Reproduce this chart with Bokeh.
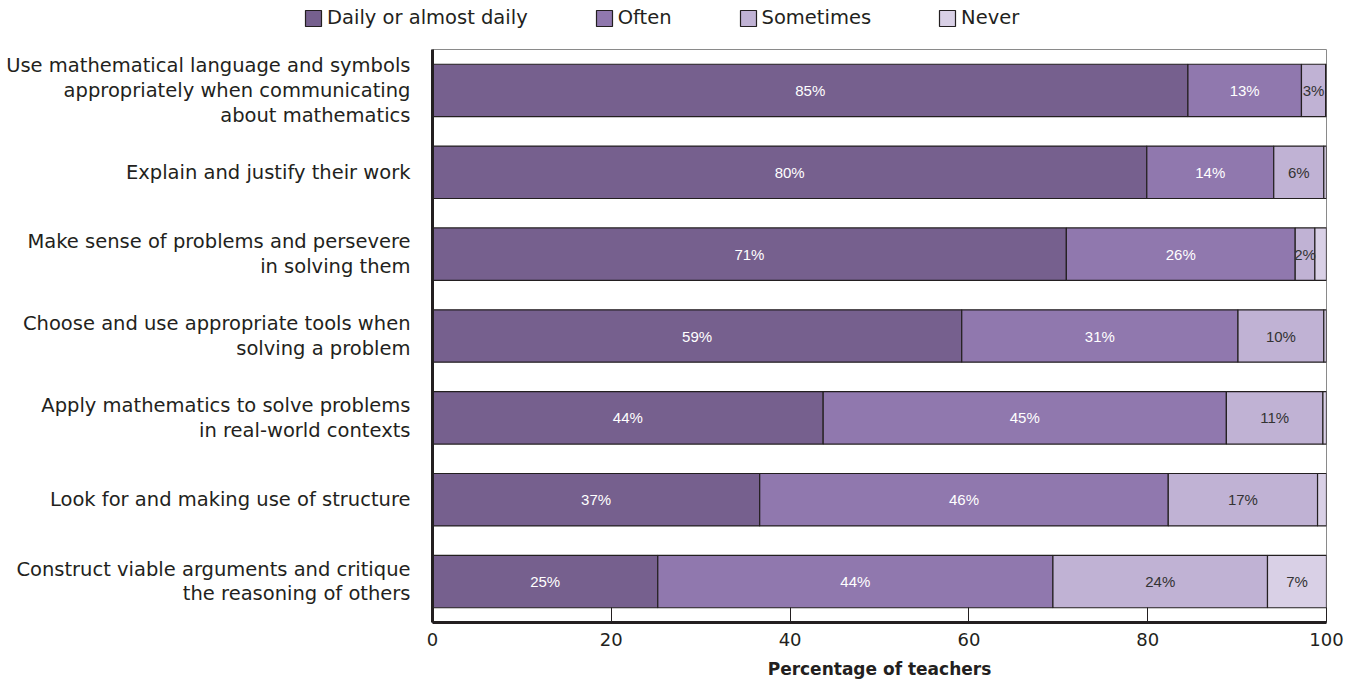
from bokeh.plotting import figure
from bokeh.layouts import column
from bokeh.models import ColumnDataSource, LabelSet, Legend, LegendItem
from bokeh.core.properties import value
from bokeh.embed import file_html
from bokeh.resources import INLINE

# Practices, top to bottom
practices = [
    "Use mathematical language and symbols\nappropriately when communicating\nabout mathematics",
    "Explain and justify their work",
    "Make sense of problems and persevere\nin solving them",
    "Choose and use appropriate tools when\nsolving a problem",
    "Apply mathematics to solve problems\nin real-world contexts",
    "Look for and making use of structure",
    "Construct viable arguments and critique\nthe reasoning of others",
]

frequency = ["Daily or almost daily", "Often", "Sometimes", "Never"]

# Percentage of teachers per frequency
daily = [84.5, 79.9, 70.9, 59.2, 43.7, 36.6, 25.2]
often = [12.7, 14.2, 25.6, 30.9, 45.1, 45.7, 44.2]
sometimes = [2.7, 5.6, 2.2, 9.6, 10.8, 16.7, 24.0]
never = [0.1, 0.3, 1.3, 0.3, 0.4, 1.0, 6.6]

x_ticks = [0, 20, 40, 60, 80, 100]

colors = ["#76608e", "#9078ae", "#c0b2d4", "#d9d0e6"]
label_colors = ["#ffffff", "#ffffff", "#333333", "#333333"]
edge = "#231f20"
ink = "#231f20"
FONT = "DejaVu Sans"

series = [daily, often, sometimes, never]
keys = ["daily", "often", "sometimes", "never"]

data = {"practice": practices}
for k, s in zip(keys, series):
    data[k] = s
source = ColumnDataSource(data)

KEY_H = 40

p = figure(
    width=1349, height=693 - KEY_H,
    y_range=list(reversed(practices)),
    x_range=(0, 100),
    output_backend="svg", toolbar_location=None,
    min_border_left=432, min_border_right=23,
    min_border_top=9, min_border_bottom=71,
)
p.frame_align = False
p.y_range.range_padding = 0

renderers = p.hbar_stack(
    keys, y="practice", height=0.64, source=source,
    color=colors, line_color=edge, line_width=1.2,
)

# Segment value labels, centred in each segment
for i, (k, s) in enumerate(zip(keys, series)):
    left = [sum(series[j][r] for j in range(i)) for r in range(len(practices))]
    mids, ys, texts = [], [], []
    for r, v in enumerate(s):
        if v >= 2:
            mids.append(left[r] + v / 2)
            ys.append(practices[r])
            texts.append(f"{int(v + 0.5)}%")
    ls = LabelSet(
        x="x", y="y", text="t",
        source=ColumnDataSource(dict(x=mids, y=ys, t=texts)),
        text_align="center", text_baseline="middle",
        text_font=value("Liberation Sans"), text_font_size=value("15px"),
        text_color=label_colors[i],
    )
    p.add_layout(ls)

# Axes
p.xaxis.ticker = x_ticks
p.xaxis.axis_label = "Percentage of teachers"
p.xaxis.axis_label_text_font = FONT
p.xaxis.axis_label_text_font_style = "bold"
p.xaxis.axis_label_text_font_size = "17px"
p.xaxis.axis_label_text_color = ink
p.xaxis.axis_label_standoff = 10
p.xaxis.major_label_text_font = FONT
p.xaxis.major_label_text_font_size = "18px"
p.xaxis.major_label_text_color = ink
p.xaxis.major_label_standoff = 10
p.xaxis.axis_line_width = 3
p.xaxis.axis_line_color = ink
p.xaxis.major_tick_in = 15
p.xaxis.major_tick_out = 0
p.xaxis.major_tick_line_color = ink
p.xaxis.minor_tick_line_color = None

p.yaxis.major_label_text_font = FONT
p.yaxis.major_label_text_font_size = "19.5px"
p.yaxis.major_label_text_color = ink
p.yaxis.major_label_text_line_height = 1.07
p.yaxis.major_label_standoff = 16
p.yaxis.axis_line_width = 3
p.yaxis.axis_line_color = ink
p.yaxis.major_tick_line_color = None
p.yaxis.minor_tick_line_color = None

p.xgrid.grid_line_color = None
p.ygrid.grid_line_color = None
p.outline_line_color = "#8a8a8a"
p.outline_line_width = 1

# Key strip across the top
key = figure(
    width=1349, height=KEY_H, x_range=(0, 1), y_range=(0, 1),
    output_backend="svg", toolbar_location=None,
    x_axis_location=None, y_axis_location=None,
    min_border=0,
)
key.frame_align = False
key.grid.visible = False
key.outline_line_color = None
nan = float("nan")
key_src = ColumnDataSource(dict(y=[nan], left=[nan], right=[nan]))
swatches = [
    key.hbar(y="y", left="left", right="right", height=0.5, source=key_src,
             color=c, line_color=edge, line_width=1.2)
    for c in colors
]
legend = Legend(
    items=[LegendItem(label=f, renderers=[r]) for f, r in zip(frequency, swatches)],
    orientation="horizontal",
    location=(303, 11),
    glyph_width=20, glyph_height=20, label_standoff=4, spacing=66,
    padding=0, margin=0, border_line_color=None, background_fill_alpha=0,
    label_text_font=FONT, label_text_font_size="19.5px",
    label_text_color=ink,
)
key.add_layout(legend, "center")

layout = column(key, p, spacing=0)
open("out.html", "w").write(file_html(layout, INLINE))
